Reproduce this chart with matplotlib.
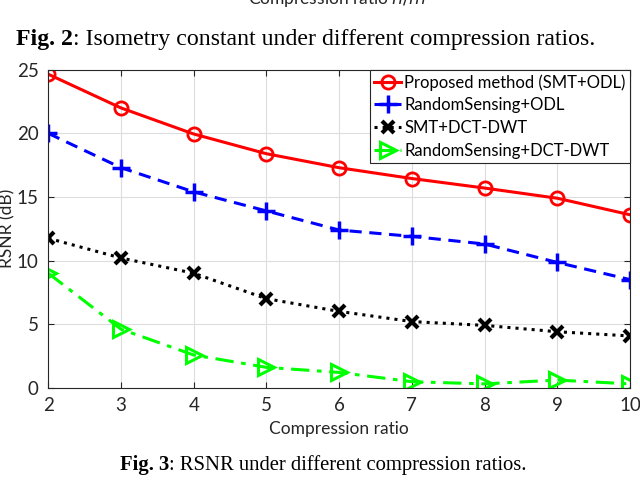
import matplotlib.pyplot as plt

# compression ratio (x) and RSNR in dB for each method
ratios = [2, 3, 4, 5, 6, 7, 8, 9, 10]
proposed = [24.65, 22.0, 19.95, 18.4, 17.3, 16.45, 15.7, 14.9, 13.6]
random_odl = [20.0, 17.3, 15.4, 13.9, 12.4, 11.9, 11.3, 9.85, 8.5]
smt_dct = [11.75, 10.2, 9.0, 7.0, 6.0, 5.2, 4.9, 4.4, 4.07]
random_dct = [9.0, 4.6, 2.57, 1.6, 1.2, 0.47, 0.3, 0.6, 0.3]

xticks = [2, 3, 4, 5, 6, 7, 8, 9, 10]
yticks = [0, 5, 10, 15, 20, 25]

sans = ['Lato', 'DejaVu Sans']
serif = ['Liberation Serif', 'DejaVu Serif']
dark = '#262626'

fig = plt.figure(figsize=(6.4, 4.84), dpi=100)
ax = fig.add_axes([48.3 / 640, 1 - 387.7 / 484, (630 - 48.3) / 640, (387.7 - 69.8) / 484])

ax.plot(ratios, proposed, '-o', color='#ff0000', lw=2.2, ms=9.5, mfc='none', mew=2,
        label='Proposed method (SMT+ODL)')
ax.plot(ratios, random_odl, '--+', color='#0000ff', lw=2.2, ms=13, mew=2.5,
        label='RandomSensing+ODL', dashes=(4, 2.5))
ax.plot(ratios, smt_dct, ':x', color='black', lw=2.2, ms=9, mew=3,
        label='SMT+DCT-DWT')
ax.plot(ratios, random_dct, '-.>', color='#00ff00', lw=2.2, ms=11, mfc='none', mew=2.2,
        label='RandomSensing+DCT-DWT', dashes=(6, 2.5, 1.5, 2.5))

ax.set_xlim(2, 10)
ax.set_ylim(0, 25)
ax.set_xticks(xticks)
ax.set_yticks(yticks)
ax.grid(True, color='#dddddd', lw=0.8)
ax.set_axisbelow(True)
ax.tick_params(direction='in', top=True, right=True, length=4, width=0.8,
               colors=dark, labelsize=13.5, pad=7)
for lab in ax.get_xticklabels() + ax.get_yticklabels():
    lab.set_family(sans)
for s in ax.spines.values():
    s.set_color(dark)
    s.set_linewidth(0.8)

ax.set_xlabel('Compression ratio', family=sans, fontsize=12.5, color=dark, labelpad=5)
ax.set_ylabel('RSNR (dB)', family=sans, fontsize=12.5, color=dark, labelpad=1)

leg = ax.legend(loc='upper right', prop={'family': sans, 'size': 12}, fancybox=False,
                framealpha=1, edgecolor=dark, borderpad=0.25, labelspacing=0.4,
                handlelength=1.6, handletextpad=0.2, borderaxespad=0)
leg.get_frame().set_linewidth(0.8)

# captions from the page (top one is cut off in the crop)
fig.text(0.527, 1.003, 'Compression ratio $n/m$', family=sans, fontsize=12.5, color=dark,
         ha='center', va='center')


def caption(x, y, bold, rest, size):
    t = fig.text(x, y, bold, family=serif, fontsize=size, weight='bold', ha='left', va='baseline')
    fig.canvas.draw()
    bb = t.get_window_extent()
    fig.text(bb.x1 / fig.bbox.width, y, rest, family=serif, fontsize=size,
             ha='left', va='baseline')


caption(16 / 640, 1 - 45 / 484, 'Fig. 2', ': Isometry constant under different compression ratios.', 17.2)
caption(120 / 640, 1 - 470 / 484, 'Fig. 3', ': RSNR under different compression ratios.', 14.9)

fig.savefig('out.png', dpi=100)
